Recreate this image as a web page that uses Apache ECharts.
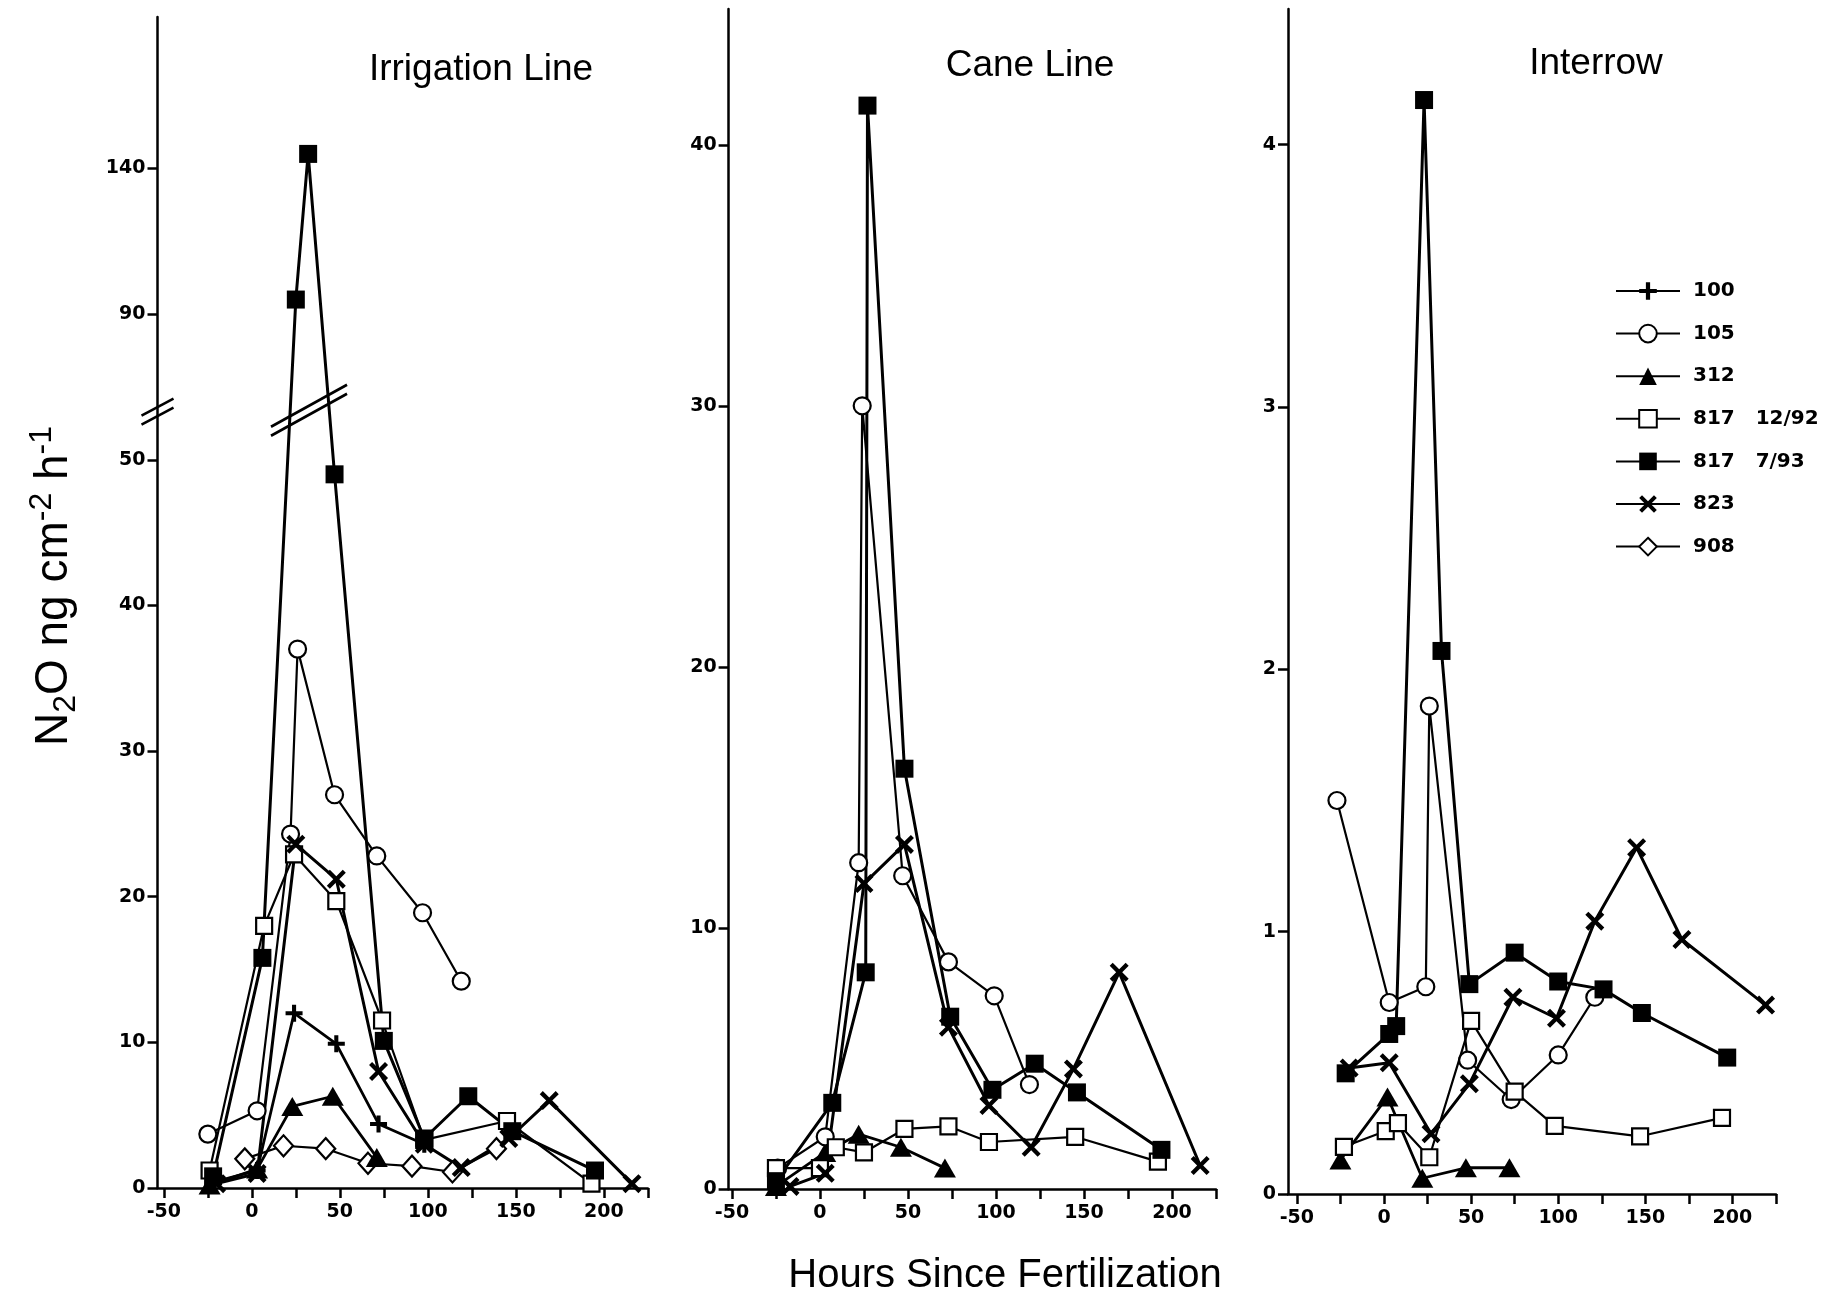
<!DOCTYPE html>
<html>
<head>
<meta charset="utf-8">
<script src="https://cdn.jsdelivr.net/npm/echarts@6/dist/echarts.min.js"></script>
<style>
html, body { margin: 0; background: #fff; }
#myChart { width: 1828px; height: 1297px; }
</style>
</head>
<body>
<div id="myChart"></div>
<script>
// [hours since fertilization, N2O ng cm-2 h-1]
// Irrigation Line
var irr100  = [[-22, 0.4], [3, 1.2], [24, 12.0], [48, 9.9], [72, 4.4], [98, 3.0]];
var irr105  = [[-25, 3.7], [3, 5.3], [22, 24.3], [26, 37.0], [47, 27.0], [71, 22.8], [97, 18.9], [119, 14.2]];
var irr312  = [[-24, 0.2], [3, 1.3], [23, 5.6], [46, 6.3], [71, 2.1]];
var irr817a = [[-24, 1.2], [7, 18.0], [24, 22.9], [48, 19.7], [74, 11.5], [98, 3.3], [145, 4.6], [193, 0.3]];
var irr817b = [[-22, 0.8], [6, 15.8], [25, 95], [32, 145], [47, 49], [75, 10.1], [98, 3.4], [123, 6.3], [148, 3.9], [195, 1.2]];
var irr823  = [[-20, 0.3], [3, 1.0], [25, 23.6], [48, 21.2], [72, 8.0], [98, 3.0], [119, 1.4], [146, 3.4], [169, 6.0], [216, 0.3]];
var irr908  = [[-4, 2.0], [18, 2.9], [42, 2.7], [66, 1.7], [91, 1.5], [114, 1.1], [139, 2.7]];
// Cane Line
var cane105  = [[-24, 0.8], [3, 2.0], [22, 12.5], [24, 30.0], [47, 12.0], [73, 8.7], [99, 7.4], [119, 4.0]];
var cane312  = [[-25, 0.1], [3, 1.4], [22, 2.1], [46, 1.6], [71, 0.8]];
var cane817a = [[-25, 0.8], [0, 0.8], [9, 1.6], [25, 1.4], [48, 2.3], [73, 2.4], [96, 1.8], [145, 2.0], [192, 1.05]];
var cane817b = [[-25, 0.3], [7, 3.3], [26, 8.3], [27, 41.5], [48, 16.1], [74, 6.6], [98, 3.8], [122, 4.8], [146, 3.7], [194, 1.5]];
var cane823  = [[-17, 0.1], [3, 0.6], [25, 11.7], [48, 13.2], [73, 6.2], [96, 3.2], [120, 1.6], [144, 4.6], [170, 8.3], [216, 0.9]];
// Interrow
var int105  = [[-27, 1.50], [3, 0.73], [24, 0.79], [26, 1.86], [48, 0.51], [73, 0.36], [100, 0.53], [121, 0.75]];
var int312  = [[-25, 0.13], [2, 0.37], [22, 0.06], [47, 0.10], [72, 0.10]];
var int817a = [[-23, 0.18], [1, 0.24], [8, 0.27], [26, 0.14], [50, 0.66], [75, 0.39], [98, 0.26], [147, 0.22], [194, 0.29]];
var int817b = [[-22, 0.46], [3, 0.61], [7, 0.64], [23, 4.17], [33, 2.07], [49, 0.80], [75, 0.92], [100, 0.81], [126, 0.78], [148, 0.69], [197, 0.52]];
var int823  = [[-20, 0.48], [3, 0.50], [27, 0.23], [49, 0.42], [74, 0.75], [99, 0.67], [121, 1.04], [145, 1.32], [171, 0.97], [219, 0.72]];

var xTicks = [-50, -25, 0, 25, 50, 75, 100, 125, 150, 175, 200, 225];
var xLabels = [-50, 0, 50, 100, 150, 200];
var irrYTicks = [0, 10, 20, 30, 40, 50, 90, 140];
var caneYTicks = [0, 10, 20, 30, 40];
var intYTicks = [0, 1, 2, 3, 4];

var names = ['100', '105', '312', '817   12/92', '817   7/93', '823', '908'];

// broken y axis on the first panel: above the break 5 units per display unit
function brk(v) { return v <= 55 ? v : 60 + (v - 90) / 5; }
function unbrk(d) { return d <= 55 ? d : 90 + (d - 60) * 5; }

var plusPath = 'path://M3.8,0H6.2V3.8H10V6.2H6.2V10H3.8V6.2H0V3.8H3.8Z';
var crossPath = 'path://M0,1.6L1.6,0L5,3.4L8.4,0L10,1.6L6.6,5L10,8.4L8.4,10L5,6.6L1.6,10L0,8.4L3.4,5Z';

var look = {
    '100': { symbol: plusPath, symbolSize: 17, fill: '#000', width: 2.8 },
    '105': { symbol: 'circle', symbolSize: 17, fill: '#fff', width: 2.2 },
    '312': { symbol: 'triangle', symbolSize: [22, 19], fill: '#000', width: 2.8 },
    '817   12/92': { symbol: 'rect', symbolSize: 16, fill: '#fff', width: 2.2 },
    '817   7/93': { symbol: 'rect', symbolSize: 18, fill: '#000', width: 3 },
    '823': { symbol: crossPath, symbolSize: 19, fill: '#000', width: 3 },
    '908': { symbol: 'diamond', symbolSize: [19, 21], fill: '#fff', width: 2.2 }
};

var font = 'Liberation Sans, Arial, Helvetica, sans-serif';
var tickFont = 'DejaVu Sans, sans-serif';

function mkSeries(name, data, gi, tf) {
    var s = look[name];
    return {
        type: 'line',
        name: name,
        xAxisIndex: gi,
        yAxisIndex: gi,
        data: data.map(function (p) { return [p[0], tf ? tf(p[1]) : p[1]]; }),
        symbol: s.symbol,
        symbolSize: s.symbolSize,
        showAllSymbol: true,
        lineStyle: { color: '#000', width: s.width },
        itemStyle: { color: s.fill, borderColor: '#000', borderWidth: s.fill === '#fff' ? 2.2 : 0 },
        emphasis: { disabled: true },
        animation: false
    };
}

function xAxisCfg(gi, min) {
    return {
        type: 'value', gridIndex: gi, min: min, max: 225,
        axisLine: { show: true, onZero: false, lineStyle: { color: '#000', width: 2.5 } },
        axisTick: { show: true, length: 10, lineStyle: { color: '#000', width: 2.5 }, customValues: xTicks },
        axisLabel: { customValues: xLabels, color: '#000', fontSize: 19, fontWeight: 'bold', fontFamily: tickFont, margin: 15 },
        splitLine: { show: false }
    };
}

function yAxisCfg(gi, max, ticks, tf, fmt) {
    var vals = ticks.map(function (t) { return tf ? tf(t) : t; });
    return {
        type: 'value', gridIndex: gi, min: 0, max: max,
        axisLine: { show: true, onZero: false, lineStyle: { color: '#000', width: 2.5 } },
        axisTick: { show: true, length: 10, lineStyle: { color: '#000', width: 2.5 }, customValues: vals },
        axisLabel: { customValues: vals, formatter: fmt, color: '#000', fontSize: 19, fontWeight: 'bold', fontFamily: tickFont, margin: 12 },
        splitLine: { show: false }
    };
}

var myChart = echarts.init(document.getElementById('myChart'));

var series = [
    mkSeries('908', irr908, 0, brk),
    mkSeries('312', irr312, 0, brk),
    mkSeries('100', irr100, 0, brk),
    mkSeries('105', irr105, 0, brk),
    mkSeries('817   12/92', irr817a, 0, brk),
    mkSeries('823', irr823, 0, brk),
    mkSeries('817   7/93', irr817b, 0, brk),
    mkSeries('312', cane312, 1),
    mkSeries('105', cane105, 1),
    mkSeries('817   12/92', cane817a, 1),
    mkSeries('823', cane823, 1),
    mkSeries('817   7/93', cane817b, 1),
    mkSeries('312', int312, 2),
    mkSeries('105', int105, 2),
    mkSeries('817   12/92', int817a, 2),
    mkSeries('823', int823, 2),
    mkSeries('817   7/93', int817b, 2)
];

var option = {
    backgroundColor: '#fff',
    animation: false,
    grid: [
        { left: 157.5, top: 17, width: 490.3, height: 1171 },
        { left: 728.6, top: 9, width: 487.4, height: 1180 },
        { left: 1288, top: 9, width: 488, height: 1185 }
    ],
    xAxis: [xAxisCfg(0, -53.6), xAxisCfg(1, -51.9), xAxisCfg(2, -55.1)],
    yAxis: [
        yAxisCfg(0, 80.4, irrYTicks, brk, function (v) { return String(Math.round(unbrk(v))); }),
        yAxisCfg(1, 45.2, caneYTicks),
        yAxisCfg(2, 4.517, intYTicks)
    ],
    legend: {
        data: names,
        orient: 'vertical',
        left: 1610,
        top: 276,
        itemWidth: 64,
        itemHeight: 22,
        itemGap: 22.6,
        selectedMode: false,
        textStyle: { color: '#000', fontSize: 20, fontWeight: 'bold', fontFamily: tickFont, padding: [0, 0, 0, 8] }
    },
    series: series
};
myChart.setOption(option);

// titles and break marks
var g = [];
function title(text, x, y, size) {
    g.push({ type: 'text', x: x, y: y, style: { text: text, fontSize: size, fontFamily: font, fill: '#000', align: 'center', verticalAlign: 'middle' } });
}
title('Irrigation Line', 481, 70, 37);
title('Cane Line', 1030, 66, 37);
title('Interrow', 1596, 64, 37);
title('Hours Since Fertilization', 1005, 1276, 40);

g.push({
    type: 'text', x: 54, y: 586, rotation: Math.PI / 2,
    style: {
        text: '{m|N}{s|2}{m|O ng cm}{p|-2}{m| h}{p|-1}',
        align: 'center', verticalAlign: 'middle', fill: '#000',
        rich: {
            m: { fontSize: 46, fontFamily: font, lineHeight: 56, verticalAlign: 'middle' },
            s: { fontSize: 32, fontFamily: font, lineHeight: 56, verticalAlign: 'bottom' },
            p: { fontSize: 32, fontFamily: font, lineHeight: 56, verticalAlign: 'top' }
        }
    }
});

function slash(cx, cy, dx, dy) {
    [-4.5, 4.5].forEach(function (o) {
        g.push({ type: 'line', shape: { x1: cx - dx, y1: cy + dy + o, x2: cx + dx, y2: cy - dy + o }, style: { stroke: '#000', lineWidth: 2.6 } });
    });
}
var a = myChart.convertToPixel({ gridIndex: 0 }, [-53.6, 53.3]);
slash(a[0], a[1], 16, 8.5);
var b = myChart.convertToPixel({ gridIndex: 0 }, [32.5, 53.4]);
slash(b[0], b[1], 38, 21);

myChart.setOption({ graphic: g });

window.onresize = function () {
    myChart.resize();
};
</script>
</body>
</html>
